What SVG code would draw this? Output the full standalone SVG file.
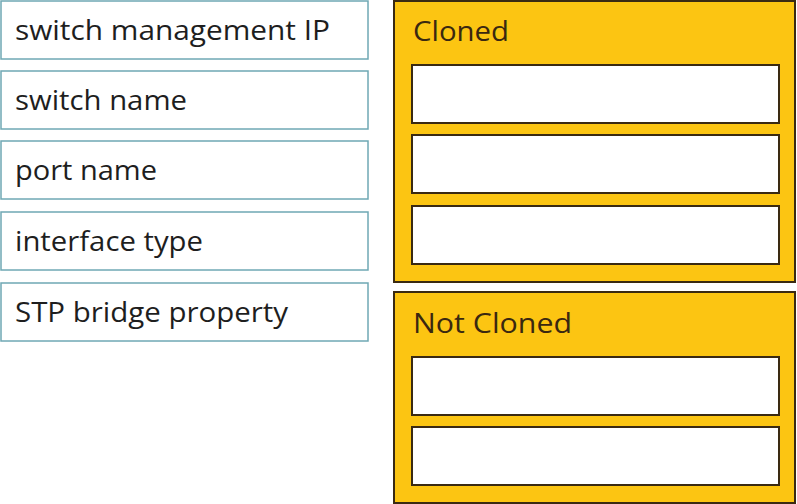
<svg xmlns="http://www.w3.org/2000/svg" width="797" height="504" viewBox="0 0 797 504">
<style>
.item rect{fill:#fff;stroke:#6fa8b4;stroke-width:1.5}
.item text{font-family:"Open Sans","Noto Sans",sans-serif;font-size:27px;fill:#1e1e1e}
.panel>rect.box{fill:#fcc512;stroke:#3a2a12;stroke-width:2}
.panel>rect.slot{fill:#fff;stroke:#3a2a12;stroke-width:2}
.panel text{font-family:"Open Sans","Noto Sans",sans-serif;font-size:28px;fill:#3a2810}
</style>
<rect width="797" height="504" fill="#fff"/>
<g id="item-switch-management-ip" class="item"><rect x="1" y="1" width="367" height="58"/><text x="15" y="40" textLength="315" lengthAdjust="spacingAndGlyphs">switch management IP</text></g>
<g id="item-switch-name" class="item"><rect x="1" y="71" width="367" height="58"/><text x="15" y="110" textLength="172" lengthAdjust="spacingAndGlyphs">switch name</text></g>
<g id="item-port-name" class="item"><rect x="1" y="141" width="367" height="58"/><text x="15" y="180" textLength="142" lengthAdjust="spacingAndGlyphs">port name</text></g>
<g id="item-interface-type" class="item"><rect x="1" y="212" width="367" height="58"/><text x="15" y="251" textLength="188" lengthAdjust="spacingAndGlyphs">interface type</text></g>
<g id="item-stp-bridge-property" class="item"><rect x="1" y="283" width="367" height="58"/><text x="15" y="322" textLength="273" lengthAdjust="spacingAndGlyphs">STP bridge property</text></g>
<g id="panel-cloned" class="panel"><rect class="box" x="394" y="1" width="401" height="281"/><text x="413" y="41" textLength="96" lengthAdjust="spacingAndGlyphs">Cloned</text>
<rect class="slot" x="412" y="65" width="367" height="58"/><rect class="slot" x="412" y="135" width="367" height="58"/><rect class="slot" x="412" y="206" width="367" height="58"/></g>
<g id="panel-not-cloned" class="panel"><rect class="box" x="394" y="292" width="401" height="211"/><text x="413" y="333" textLength="159" lengthAdjust="spacingAndGlyphs">Not Cloned</text>
<rect class="slot" x="412" y="357" width="367" height="58"/><rect class="slot" x="412" y="427" width="367" height="58"/></g>
<g id="connectors"/>
</svg>
